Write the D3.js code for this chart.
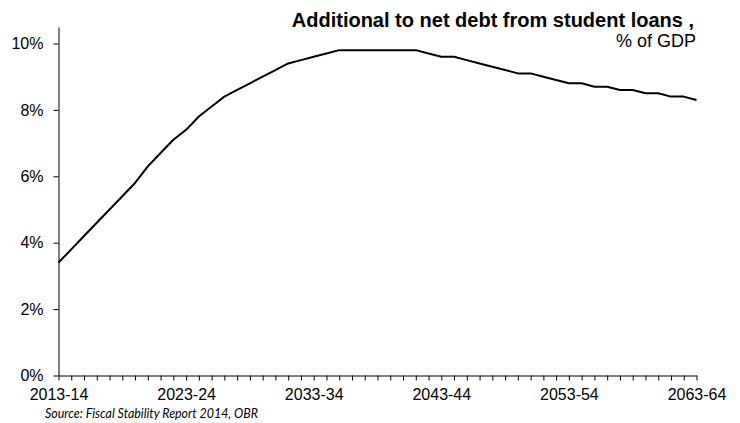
<!DOCTYPE html>
<html>
<head>
<meta charset="utf-8">
<script src="https://cdn.jsdelivr.net/npm/d3@7"></script>
<style>
  body { margin: 0; background: #fff; }
  svg { display: block; font-family: "Liberation Sans", Arial, sans-serif; }
</style>
</head>
<body>
<svg width="740" height="423"></svg>
<script>
// fiscal years on the x axis
var years = ["2013-14","2014-15","2015-16","2016-17","2017-18","2018-19","2019-20","2020-21","2021-22","2022-23",
  "2023-24","2024-25","2025-26","2026-27","2027-28","2028-29","2029-30","2030-31","2031-32","2032-33",
  "2033-34","2034-35","2035-36","2036-37","2037-38","2038-39","2039-40","2040-41","2041-42","2042-43",
  "2043-44","2044-45","2045-46","2046-47","2047-48","2048-49","2049-50","2050-51","2051-52","2052-53",
  "2053-54","2054-55","2055-56","2056-57","2057-58","2058-59","2059-60","2060-61","2061-62","2062-63",
  "2063-64"];

// additional net debt from student loans, % of GDP
var debt = [3.4, 3.8, 4.2, 4.6, 5.0, 5.4, 5.8, 6.3, 6.7, 7.1,
  7.4, 7.8, 8.1, 8.4, 8.6, 8.8, 9.0, 9.2, 9.4, 9.5,
  9.6, 9.7, 9.8, 9.8, 9.8, 9.8, 9.8, 9.8, 9.8, 9.7,
  9.6, 9.6, 9.5, 9.4, 9.3, 9.2, 9.1, 9.1, 9.0, 8.9,
  8.8, 8.8, 8.7, 8.7, 8.6, 8.6, 8.5, 8.5, 8.4, 8.4,
  8.3];

var yTicks = [0, 2, 4, 6, 8, 10];
var labelEvery = 10;

var svg = d3.select("svg");

var x = d3.scaleLinear()
    .domain([0, years.length - 1])
    .range([58.5, 696.5]);

var y = d3.scaleLinear()
    .domain([0, 10.5])
    .range([375.5, 26.9]);

// x axis, a tick for every year, label every ten
var xAxis = svg.append("g")
    .attr("transform", "translate(0," + y(0) + ")")
    .call(d3.axisBottom(x)
        .tickValues(d3.range(years.length))
        .tickSize(5)
        .tickPadding(8)
        .tickSizeOuter(0)
        .tickFormat(function(d){ return d % labelEvery == 0 ? years[d] : ""; }));

// y axis
var yAxis = svg.append("g")
    .attr("transform", "translate(" + x(0) + ",0)")
    .call(d3.axisLeft(y)
        .tickValues(yTicks)
        .tickSize(5)
        .tickPadding(10)
        .tickSizeOuter(0)
        .tickFormat(function(d){ return d + "%"; }));

svg.selectAll(".domain, .tick line").attr("stroke", "#000").attr("stroke-width", 1);
svg.selectAll(".tick text")
    .attr("fill", "#000")
    .style("font-size", "16px")
    .style("font-family", "'Liberation Sans', Arial, sans-serif");

// the line
var line = d3.line()
    .x(function(d, i){ return x(i); })
    .y(function(d){ return y(d); });

svg.append("path")
    .datum(debt)
    .attr("d", line)
    .attr("fill", "none")
    .attr("stroke", "#000")
    .attr("stroke-width", 2)
    .attr("stroke-linejoin", "round");

// titles
svg.append("text")
    .attr("x", 694)
    .attr("y", 26.5)
    .attr("text-anchor", "end")
    .style("font-weight", "bold")
    .style("font-size", "20px")
    .text("Additional to net debt from student loans ,");

svg.append("text")
    .attr("x", 696)
    .attr("y", 46.5)
    .attr("text-anchor", "end")
    .style("font-size", "18px")
    .text("% of GDP");

svg.append("text")
    .attr("x", 45)
    .attr("y", 417.5)
    .style("font-family", "Lato, 'Open Sans', sans-serif")
    .style("font-style", "italic")
    .style("font-size", "14px")
    .attr("textLength", 213)
    .attr("lengthAdjust", "spacingAndGlyphs")
    .text("Source: Fiscal Stability Report 2014, OBR");
</script>
</body>
</html>
